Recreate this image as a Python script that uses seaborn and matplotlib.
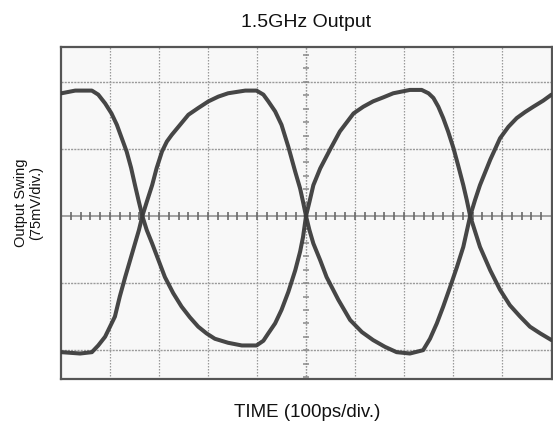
import numpy as np
import pandas as pd
import matplotlib
matplotlib.use("Agg")
import matplotlib.pyplot as plt
import seaborn as sns

# Time in divisions (100 ps/div), voltage in divisions (75 mV/div)
time_a = [0.01, 0.29, 0.63, 0.76, 0.90, 1.03, 1.14, 1.24, 1.34, 1.43, 1.51, 1.59, 1.66, 1.75,
          1.86, 1.99, 2.12, 2.29, 2.46, 2.63, 2.80, 2.97, 3.14, 3.41, 3.69, 3.99, 4.13, 4.23,
          4.37, 4.50, 4.64, 4.78, 4.88, 4.94, 5.00, 5.07, 5.15, 5.29, 5.49, 5.69, 5.97, 6.17,
          6.37, 6.58, 6.78, 7.12, 7.36, 7.50, 7.60, 7.70, 7.80, 7.90, 8.01, 8.11, 8.21, 8.28,
          8.35, 8.45, 8.55, 8.76, 8.96, 9.16, 9.37, 9.57, 9.78, 10.01]
swing_a = [1.83, 1.87, 1.87, 1.81, 1.68, 1.53, 1.36, 1.16, 0.96, 0.72, 0.46, 0.21, 0.0, -0.21,
           -0.41, -0.66, -0.91, -1.15, -1.35, -1.51, -1.65, -1.75, -1.83, -1.89, -1.93, -1.93, -1.86, -1.75,
           -1.60, -1.40, -1.13, -0.81, -0.53, -0.31, 0.0, 0.21, 0.46, 0.71, 0.99, 1.26, 1.53, 1.63,
           1.71, 1.77, 1.83, 1.88, 1.88, 1.83, 1.76, 1.63, 1.46, 1.26, 1.01, 0.74, 0.46, 0.24,
           0.0, -0.23, -0.46, -0.81, -1.10, -1.33, -1.50, -1.65, -1.75, -1.85]
time_b = [0.01, 0.39, 0.63, 0.76, 0.90, 1.00, 1.10, 1.20, 1.31, 1.41, 1.51, 1.59, 1.66, 1.75,
          1.86, 1.95, 2.06, 2.16, 2.26, 2.43, 2.60, 2.80, 3.01, 3.21, 3.41, 3.76, 3.99, 4.13,
          4.23, 4.37, 4.50, 4.64, 4.78, 4.88, 4.94, 5.00, 5.07, 5.15, 5.29, 5.42, 5.66, 5.90,
          6.14, 6.37, 6.61, 6.85, 7.12, 7.39, 7.53, 7.67, 7.80, 7.94, 8.08, 8.21, 8.28, 8.35,
          8.45, 8.55, 8.76, 8.96, 9.13, 9.30, 9.47, 9.64, 9.84, 10.01]
swing_b = [-2.03, -2.05, -2.03, -1.93, -1.80, -1.65, -1.50, -1.20, -0.91, -0.66, -0.41, -0.21, 0.0, 0.21,
           0.46, 0.71, 0.96, 1.11, 1.21, 1.36, 1.51, 1.61, 1.71, 1.78, 1.83, 1.87, 1.87, 1.81,
           1.71, 1.56, 1.36, 1.03, 0.66, 0.41, 0.21, 0.0, -0.21, -0.41, -0.66, -0.91, -1.25, -1.55,
           -1.73, -1.85, -1.95, -2.03, -2.05, -2.00, -1.83, -1.60, -1.35, -1.06, -0.76, -0.46, -0.23, 0.0,
           0.24, 0.46, 0.84, 1.16, 1.33, 1.46, 1.55, 1.63, 1.72, 1.81]

title = "1.5GHz Output"
xlabel = "TIME (100ps/div.)"
ylabel = "Output Swing\n(75mV/div.)"

sns.set_style("white")
plt.rcParams['font.family'] = ['Liberation Sans', 'DejaVu Sans']

df = pd.concat([
    pd.DataFrame({"t": time_a, "v": swing_a, "trace": "A"}),
    pd.DataFrame({"t": time_b, "v": swing_b, "trace": "B"}),
])

fig = plt.figure(figsize=(5.53, 4.26), dpi=100)
ax = fig.add_axes([61 / 553, 1 - 379 / 426, 491 / 553, 332 / 426])
ax.set_facecolor("#f8f8f8")

xmax = 10.02
ymin, ymax = -2.43, 2.52
ax.set_xlim(0, xmax)
ax.set_ylim(ymin, ymax)

# grid
for gx in range(1, 10):
    ax.axvline(gx, color="#9a9a9a", lw=0.9, ls=(0, (1.2, 1.2)), zorder=1)
for gy in [-2, -1, 1, 2]:
    ax.axhline(gy, color="#9a9a9a", lw=1.0, ls=(0, (1.5, 0.8)), zorder=1)
ax.axhline(0, color="#8a8a8a", lw=1.1, zorder=1)
ax.axvline(5, color="#9a9a9a", lw=0.9, ls=(0, (1.2, 1.2)), zorder=1)

# centre-line ticks
tx = np.arange(0.2, 10.0, 0.2)
ax.plot(tx, np.zeros_like(tx), ls="none", marker="|", ms=6, mew=1.2, color="#6a6a6a", zorder=2)
ty = np.arange(-2.4, 2.5, 0.2)
ax.plot(np.full_like(ty, 5.0), ty, ls="none", marker="_", ms=5, mew=1.1, color="#8a8a8a", zorder=2)

sns.lineplot(data=df, x="t", y="v", units="trace", estimator=None, sort=False,
             color="#3c3c3c", lw=2.9, ax=ax, zorder=3, alpha=0.95)

ax.set_xticks([])
ax.set_yticks([])
ax.set_xlabel("")
ax.set_ylabel("")
for s in ax.spines.values():
    s.set_visible(True)
    s.set_color("#555555")
    s.set_linewidth(1.6)

fig.text(306 / 553, 1 - 27 / 426, title, ha="center", va="baseline", fontsize=14, color="#111111")
fig.text(307 / 553, 1 - 417 / 426, xlabel, ha="center", va="baseline", fontsize=13.5, color="#111111")
fig.text(29 / 553, 1 - 203 / 426, ylabel, ha="center", va="center", rotation=90, fontsize=10.5,
         color="#111111", linespacing=1.1)

fig.savefig("out.png", dpi=100, facecolor="white")
